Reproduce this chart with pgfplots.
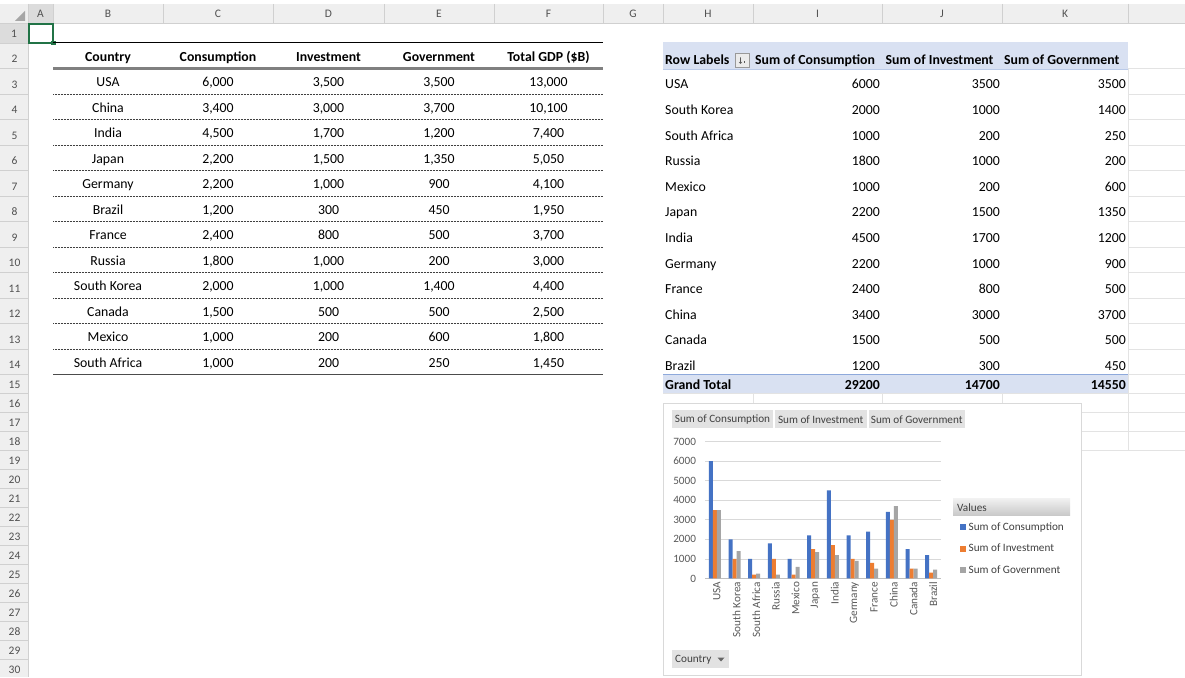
\documentclass[border=0pt]{standalone}
\usepackage{fontspec}
\setmainfont{Carlito}
\usepackage{pgfplots}
\pgfplotsset{compat=1.18}
\definecolor{xlblue}{HTML}{4472C4}
\definecolor{xlorange}{HTML}{ED7D31}
\definecolor{xlgray}{HTML}{A5A5A5}
\definecolor{hdrfill}{HTML}{EFEFEF}
\definecolor{hdrsel}{HTML}{DCDCDC}
\definecolor{hdrline}{HTML}{D0D0D0}
\definecolor{hdrtxt}{HTML}{505050}
\definecolor{pvfill}{HTML}{D9E1F2}
\definecolor{pvline}{HTML}{8EA9DB}
\definecolor{gridc}{HTML}{E3E3E3}
\definecolor{txtgray}{HTML}{595959}
\definecolor{lgtxt}{HTML}{404040}
\definecolor{xlgreen}{HTML}{217346}
\definecolor{btnfill}{HTML}{E2E2E2}
\definecolor{chartborder}{HTML}{D9D9D9}
\newcommand{\tf}{\fontsize{13.8}{16}\selectfont}
\newcommand{\hf}{\fontsize{11.5}{13}\selectfont}
\newcommand{\cf}{\fontsize{11.2}{13}\selectfont}
% left table row
\newcommand{\lrow}[6]{%
  \pgfmathsetmacro\yb{43+(#1-2)*25.5+18.5}%
  \node[anchor=base,font=\tf] at (108,\yb) {#2};
  \node[anchor=base,font=\tf] at (218,\yb) {#3};
  \node[anchor=base,font=\tf] at (328.5,\yb) {#4};
  \node[anchor=base,font=\tf] at (439,\yb) {#5};
  \node[anchor=base,font=\tf] at (548.5,\yb) {#6};
}
% pivot table row
\newcommand{\prow}[5]{%
  \pgfmathsetmacro\yb{89+(#1-3)*25.6}%
  \node[anchor=base west,font=\tf] at (665,\yb) {#2};
  \node[anchor=base east,font=\tf] at (880,\yb) {#3};
  \node[anchor=base east,font=\tf] at (1000,\yb) {#4};
  \node[anchor=base east,font=\tf] at (1126,\yb) {#5};
}
\begin{document}
\begin{tikzpicture}
\useasboundingbox (0,0) rectangle (1185pt,677pt);
\begin{scope}[x=1pt,y=-1pt,shift={(0pt,677pt)},inner sep=0pt]
\fill[white] (0,0) rectangle (1185,677);
% ---- header band and row header column
\fill[hdrfill] (0,4) rectangle (1185,23);
\fill[hdrfill] (0,23) rectangle (28,677);
\fill[hdrsel] (28,4) rectangle (53,23);
\fill[hdrsel] (0,23) rectangle (28,43);
\fill[black!35] (25,21) -- (25,11) -- (15,21) -- cycle;
\foreach \x in {28,53,163,273,384,494,603,663,753,882,1002,1128}
  \draw[hdrline,line width=0.6pt] (\x+0.5,4) -- (\x+0.5,23);
\draw[hdrline,line width=0.8pt] (0,23.5) -- (1185,23.5);
\draw[hdrline,line width=0.8pt] (28.5,23) -- (28.5,677);
\foreach \c/\x in {A/40.5,B/108,C/218,D/328.5,E/439,F/548.5,G/633,H/708,I/817.5,J/942,K/1065}
  \node[font=\hf,text=hdrtxt] at (\x,13.5) {\c};
% row numbers
\node[font=\hf,text=hdrtxt] at (14,33.5) {1};
\draw[hdrline,line width=0.6pt] (0,43) -- (28,43);
\foreach \k in {2,...,14}{
  \pgfmathsetmacro\yc{59+(\k-2)*25.5}
  \pgfmathsetmacro\yl{43+(\k-1)*25.5}
  \node[font=\hf,text=hdrtxt] at (14.5,\yc) {\k};
  \draw[hdrline,line width=0.6pt] (0,\yl) -- (28,\yl);
}
\foreach \k in {15,...,30}{
  \pgfmathsetmacro\yc{385+(\k-15)*19}
  \pgfmathsetmacro\yl{374.5+(\k-14)*19}
  \node[font=\hf,text=hdrtxt] at (14.5,\yc) {\k};
  \draw[hdrline,line width=0.6pt] (0,\yl) -- (28,\yl);
}
% selected cell A1
\draw[xlgreen,line width=1.6pt] (29,23.8) rectangle (53,43);
\fill[xlgreen] (51,41) rectangle (55.5,45.5);
% ---- faint gridlines
\foreach \k in {2,...,14}{
  \pgfmathsetmacro\yl{43+(\k-1)*25.5}
  \draw[gridc,line width=0.7pt] (1129,\yl) -- (1185,\yl);
}
\foreach \yl in {393.5,412.5,431.5,450.5}
  \draw[gridc,line width=0.7pt] (663,\yl) -- (1185,\yl);
\draw[gridc,line width=0.7pt] (1128.5,68.5) -- (1128.5,450.5);
\foreach \x in {753,882,1002}
  \draw[gridc,line width=0.7pt] (\x+0.5,393.5) -- (\x+0.5,450.5);
% ---- left table
\draw[black,line width=1pt] (53,43) -- (603,43);
\draw[black!50,line width=3pt] (53,68.5) -- (603,68.5);
\foreach \k in {3,...,13}{
  \pgfmathsetmacro\yl{43+(\k-1)*25.5}
  \draw[black!75,line width=0.6pt,dash pattern=on 0.6pt off 0.9pt] (53,\yl) -- (603,\yl);
}
\draw[black!70,line width=1.6pt] (53,374.5) -- (603,374.5);
\node[anchor=base,font=\tf\bfseries] at (108,61.5) {Country};
\node[anchor=base,font=\tf\bfseries] at (218,61.5) {Consumption};
\node[anchor=base,font=\tf\bfseries] at (328.5,61.5) {Investment};
\node[anchor=base,font=\tf\bfseries] at (439,61.5) {Government};
\node[anchor=base,font=\tf\bfseries] at (548.5,61.5) {Total GDP (\$B)};
\lrow{3}{USA}{6,000}{3,500}{3,500}{13,000}
\lrow{4}{China}{3,400}{3,000}{3,700}{10,100}
\lrow{5}{India}{4,500}{1,700}{1,200}{7,400}
\lrow{6}{Japan}{2,200}{1,500}{1,350}{5,050}
\lrow{7}{Germany}{2,200}{1,000}{900}{4,100}
\lrow{8}{Brazil}{1,200}{300}{450}{1,950}
\lrow{9}{France}{2,400}{800}{500}{3,700}
\lrow{10}{Russia}{1,800}{1,000}{200}{3,000}
\lrow{11}{South Korea}{2,000}{1,000}{1,400}{4,400}
\lrow{12}{Canada}{1,500}{500}{500}{2,500}
\lrow{13}{Mexico}{1,000}{200}{600}{1,800}
\lrow{14}{South Africa}{1,000}{200}{250}{1,450}
% ---- pivot table
\fill[pvfill] (663,42.5) rectangle (1128,69);
\draw[pvline!60,line width=0.6pt] (663,69) -- (1128,69);
\node[anchor=base west,font=\tf\bfseries] at (665,64.5) {Row Labels};
\draw[black!40,fill=white!92!black,line width=0.6pt] (735.5,53) rectangle (749.5,67);
\draw[black!65,line width=0.6pt] (740.5,57.5) -- (740.5,63.5) (739,62) -- (740.5,63.5) -- (742,62);
\draw[black!65,line width=0.6pt] (744,61.5) -- (744,63.5);
\node[anchor=base west,font=\tf\bfseries] at (755,64.5) {Sum of Consumption};
\node[anchor=base west,font=\tf\bfseries] at (885.5,64.5) {Sum of Investment};
\node[anchor=base west,font=\tf\bfseries] at (1004,64.5) {Sum of Government};
\prow{3}{USA}{6000}{3500}{3500}
\prow{4}{South Korea}{2000}{1000}{1400}
\prow{5}{South Africa}{1000}{200}{250}
\prow{6}{Russia}{1800}{1000}{200}
\prow{7}{Mexico}{1000}{200}{600}
\prow{8}{Japan}{2200}{1500}{1350}
\prow{9}{India}{4500}{1700}{1200}
\prow{10}{Germany}{2200}{1000}{900}
\prow{11}{France}{2400}{800}{500}
\prow{12}{China}{3400}{3000}{3700}
\prow{13}{Canada}{1500}{500}{500}
\prow{14}{Brazil}{1200}{300}{450}
\fill[pvfill] (663,374.5) rectangle (1128,393.5);
\draw[pvline,line width=0.7pt] (663,374.5) -- (1128,374.5);
\node[anchor=base west,font=\tf\bfseries] at (665,390) {Grand Total};
\node[anchor=base east,font=\tf\bfseries] at (880,390) {29200};
\node[anchor=base east,font=\tf\bfseries] at (1000,390) {14700};
\node[anchor=base east,font=\tf\bfseries] at (1126,390) {14550};
% ---- chart frame and buttons
\draw[chartborder,fill=white,line width=0.8pt] (663.5,403.5) rectangle (1081,675.5);
\fill[btnfill] (672,410.5) rectangle (773,428);
\fill[btnfill] (775,410.5) rectangle (866.5,428);
\fill[btnfill] (868.5,410.5) rectangle (965,428);
\node[font=\cf,text=lgtxt] at (722.5,419.5) {Sum of Consumption};
\node[font=\cf,text=lgtxt] at (820.75,419.5) {Sum of Investment};
\node[font=\cf,text=lgtxt] at (916.75,419.5) {Sum of Government};
\shade[top color=black!6,bottom color=black!22] (953,499) rectangle (1070,516);
\node[anchor=west,font=\cf,text=lgtxt] at (957,507.5) {Values};
\fill[btnfill] (672,650) rectangle (729,668);
\node[anchor=west,font=\cf,text=lgtxt] at (675,659.5) {Country};
\fill[black!60] (717.5,657.5) -- (724.5,657.5) -- (721,661.5) -- cycle;
\end{scope}
% ---- pivot chart
\begin{axis}[
  at={(705pt,98.5pt)}, anchor=south west,
  scale only axis, width=236pt, height=137pt,
  xmin=-0.5, xmax=11.5, ymin=0, ymax=7000,
  ybar=0pt, bar width=4pt,
  axis x line*=bottom, axis y line*=left,
  y axis line style={draw=none},
  x axis line style={draw=black!25,line width=0.8pt},
  major tick length=0pt,
  ytick={0,1000,...,7000},
  ymajorgrids, grid style={draw=chartborder,line width=0.7pt},
  xtick={0,...,11},
  xticklabels={USA,South Korea,South Africa,Russia,Mexico,Japan,India,Germany,France,China,Canada,Brazil},
  xticklabel style={rotate=90,anchor=east,font=\cf,text=txtgray,yshift=-2pt},
  yticklabel style={font=\cf,text=txtgray,xshift=-5.5pt},
  /pgf/number format/.cd, 1000 sep={}, assume math mode=true, /pgfplots/.cd,
  legend style={at={(1.078,0.41)},anchor=north west,draw=none,fill=none,
    inner sep=0pt,font=\cf,text=lgtxt,row sep=12pt,column sep=3pt,
    nodes={inner sep=0pt,text height=7.5pt,text depth=2pt},
    cells={anchor=west}},
  legend image code/.code={\fill[#1] (0pt,-3pt) rectangle (6pt,3pt);},
  clip=false
]
\addplot[fill=xlblue,draw=none] coordinates {(0,6000) (1,2000) (2,1000) (3,1800) (4,1000) (5,2200) (6,4500) (7,2200) (8,2400) (9,3400) (10,1500) (11,1200)};
\addplot[fill=xlorange,draw=none] coordinates {(0,3500) (1,1000) (2,200) (3,1000) (4,200) (5,1500) (6,1700) (7,1000) (8,800) (9,3000) (10,500) (11,300)};
\addplot[fill=xlgray,draw=none] coordinates {(0,3500) (1,1400) (2,250) (3,200) (4,600) (5,1350) (6,1200) (7,900) (8,500) (9,3700) (10,500) (11,450)};
\legend{Sum of Consumption,Sum of Investment,Sum of Government}
\end{axis}
\end{tikzpicture}
\end{document}
